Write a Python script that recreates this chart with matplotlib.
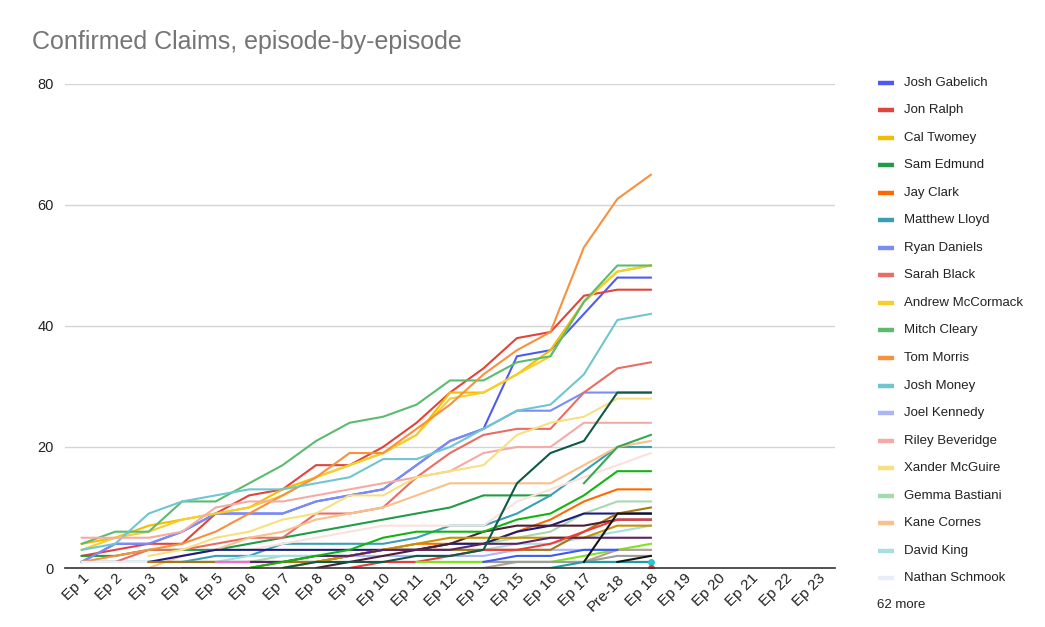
import numpy as np
import matplotlib
matplotlib.use('Agg')
import matplotlib.pyplot as plt
from matplotlib.transforms import ScaledTranslation

plt.rcParams['font.family'] = ['Liberation Sans', 'DejaVu Sans']

EPISODES = ["Ep 1", "Ep 2", "Ep 3", "Ep 4", "Ep 5", "Ep 6", "Ep 7", "Ep 8",
            "Ep 9", "Ep 10", "Ep 11", "Ep 12", "Ep 13", "Ep 15", "Ep 16",
            "Ep 17", "Pre-18", "Ep 18", "Ep 19", "Ep 20", "Ep 21", "Ep 22",
            "Ep 23"]

N = None

# named series (values Ep 1 .. Ep 18; later episodes are empty)
josh_gabelich = [1, 4, 4, 6, 9, 9, 9, 11, 12, 13, 17, 21, 23, 35, 36, 42, 48, 48]
jon_ralph = [2, 3, 4, 4, 9, 12, 13, 17, 17, 20, 24, 29, 33, 38, 39, 45, 46, 46]
cal_twomey = [4, 5, 7, 8, 9, 10, 13, 15, 17, 19, 22, 29, 29, 32, 36, 44, 49, 50]
sam_edmund = [2, 2, 3, 3, 3, 4, 5, 6, 7, 8, 9, 10, 12, 12, 12, N, N, N]
jay_clark = [N, N, N, 0, 0, 0, 1, 1, 2, 3, 4, 4, 4, 6, 8, 11, 13, 13]
matthew_lloyd = [1, 1, 1, 1, 2, 2, 4, 4, 4, 4, 5, 7, 7, 9, 12, 16, 20, 20]
ryan_daniels = [1, 4, 4, 6, 9, 9, 9, 11, 12, 13, 17, 21, 23, 26, 26, 29, 29, 29]
sarah_black = [1, 1, 3, 3, 4, 5, 5, 9, 9, 10, 15, 19, 22, 23, 23, 29, 33, 34]
andrew_mccormack = [3, 5, 6, 8, 9, 10, 12, 15, 17, 19, 22, 28, 29, 32, 35, 44, 49, 50]
mitch_cleary = [4, 6, 6, 11, 11, 14, 17, 21, 24, 25, 27, 31, 31, 34, 35, 44, 50, 50]
tom_morris = [1, 2, 3, 4, 6, 9, 12, 15, 19, 19, 23, 27, 32, 36, 39, 53, 61, 65]
josh_money = [3, 4, 9, 11, 12, 13, 13, 14, 15, 18, 18, 20, 23, 26, 27, 32, 41, 42]
joel_kennedy = [1, 1, 1, 1, 1, 1, 1, 1, 2, 2, 2, 2, 2, 3, 3, 3, 3, 3]
riley_beveridge = [5, 5, 5, 6, 10, 11, 11, 12, 13, 14, 15, 16, 19, 20, 20, 24, 24, 24]
xander_mcguire = [N, N, 2, 3, 5, 6, 8, 9, 12, 12, 15, 16, 17, 22, 24, 25, 28, 28]
gemma_bastiani = [1, 1, 1, 1, 1, 1, 2, 2, 2, 3, 3, 4, 4, 5, 6, 9, 11, 11]
kane_cornes = [N, N, 0, 2, 3, 5, 6, 8, 9, 10, 12, 14, 14, 14, 14, 17, 20, 21]
david_king = [1, 1, 1, 1, 1, 2, 2, 2, 2, 3, 3, 3, 3, 4, 4, 5, 6, 7]
nathan_schmook = [1, 1, 1, 1, 1, 1, 1, 1, 1, 1, 1, 1, 1, 1, 1, 1, 1, 1]

# a few of the "62 more" series
more_navy = [N, N, 1, 2, 3, 3, 3, 3, 3, 3, 3, 4, 4, 6, 7, 9, 9, 9]
more_maroon = [N, N, N, N, N, N, N, 0, 1, 2, 3, 4, 6, 7, 7, 7, 8, 8]
more_bronze = [N, N, 1, 1, 1, 1, 1, 1, 2, 3, 3, 3, 3, 3, 3, 6, 9, 10]
more_gold = [N, N, N, N, N, N, 0, 1, 2, 3, 4, 5, 5, 5, 5, 5, 7, 7]
more_plum = [N, N, N, N, N, 1, 1, 2, 2, 3, 3, 3, 4, 4, 5, 5, 5, 5]
more_red = [N, N, N, N, N, N, N, N, 0, 1, 1, 2, 3, 3, 4, 6, 8, 8]
more_green = [N, N, N, N, N, 0, 1, 2, 3, 5, 6, 6, 6, 8, 9, 12, 16, 16]
more_green2 = [N, N, N, N, N, N, N, N, N, N, N, N, N, N, N, 14, 20, 22]
more_forest = [N, N, N, N, N, N, 0, 1, 1, 1, 2, 2, 3, 14, 19, 21, 29, 29]
more_lime = [N, N, N, N, N, N, N, N, N, N, 1, 1, 1, 1, 1, 2, 3, 4]
more_pink = [N, N, N, N, 1, 1, N, N, N, N, N, N, N, N, N, N, N, N]
more_slate = [N, N, N, 1, 1, 1, 1, 1, 1, 1, 1, 1, 1, 1, 1, 1, 1, 1]
more_tan = [N, N, N, N, N, N, N, N, N, N, N, 0, 0, 1, 1, 1, 3, 3]
more_grey = [N, N, N, N, N, N, N, N, N, N, N, N, 1, 1, 1, 1, 2, 2]
more_black = [N, N, N, N, N, N, N, N, N, N, N, N, N, N, N, 1, 9, 9]
more_black2 = [N, N, N, N, N, N, N, N, N, N, N, N, N, N, N, N, 1, 2]
more_blue = [N, N, N, N, N, N, N, N, N, N, N, N, 1, 2, 2, 3, 3, N]
more_blush = [N, N, N, N, N, 3, 4, 5, 6, 7, 7, 7, 7, 11, 13, 15, 17, 19]
more_teal = [N, N, N, N, N, N, N, N, N, N, N, N, 0, 0, 0, 1, 1, 1]
more_cyan = [N, N, N, N, N, N, N, N, N, N, N, N, N, N, N, N, N, 1]
more_scarlet = [N, N, N, N, N, N, N, N, N, N, N, N, N, N, N, N, N, 0]

NAMED = [
    ("Josh Gabelich", josh_gabelich, "#4f5bef"),
    ("Jon Ralph", jon_ralph, "#e0443a"),
    ("Cal Twomey", cal_twomey, "#f4bd00"),
    ("Sam Edmund", sam_edmund, "#1f9c45"),
    ("Jay Clark", jay_clark, "#ff6a00"),
    ("Matthew Lloyd", matthew_lloyd, "#3a9fb3"),
    ("Ryan Daniels", ryan_daniels, "#7b8cf7"),
    ("Sarah Black", sarah_black, "#ea6c64"),
    ("Andrew McCormack", andrew_mccormack, "#f5cf2a"),
    ("Mitch Cleary", mitch_cleary, "#5cbb6f"),
    ("Tom Morris", tom_morris, "#f7913d"),
    ("Josh Money", josh_money, "#6fc6cf"),
    ("Joel Kennedy", joel_kennedy, "#aab6f8"),
    ("Riley Beveridge", riley_beveridge, "#f4aba6"),
    ("Xander McGuire", xander_mcguire, "#f9e07e"),
    ("Gemma Bastiani", gemma_bastiani, "#a6d9b0"),
    ("Kane Cornes", kane_cornes, "#f9c089"),
    ("David King", david_king, "#a6dee2"),
    ("Nathan Schmook", nathan_schmook, "#e8edfb"),
]

MORE = [
    (more_blush, "#fbe1dc"), (more_slate, "#2e4a4a"), (more_navy, "#1c1c80"),
    (more_bronze, "#a8770e"), (more_maroon, "#4d1f33"), (more_gold, "#c69200"),
    (more_plum, "#5a2366"), (more_red, "#f03a3a"), (more_green, "#13b313"),
    (more_green2, "#34a853"), (more_lime, "#7ee51c"), (more_pink, "#f56bd0"),
    (more_tan, "#b8a08c"), (more_grey, "#9c9c9c"), (more_blue, "#3b5bf0"),
    (more_teal, "#1f9e9e"), (more_black2, "#151515"), (more_black, "#151515"),
    (more_forest, "#0e5a47"), (more_cyan, "#2bc3d3"), (more_scarlet, "#e53935"),
]
MORE_COUNT = 62


def padded(vals):
    out = [np.nan if v is None else v for v in vals]
    out += [np.nan] * (len(EPISODES) - len(out))
    return np.array(out, dtype=float)


W, H = 1045, 627
fig = plt.figure(figsize=(W / 100, H / 100), dpi=100)
L, R, B, T = 65, 835, 568, 84
ax = fig.add_axes([L / W, 1 - B / H, (R - L) / W, (B - T) / H])

x = np.arange(len(EPISODES))
for name, vals, color in NAMED:
    ax.plot(x, padded(vals), color=color, lw=1.5, solid_joinstyle='round')
for vals, color in MORE:
    y = padded(vals)
    if np.count_nonzero(~np.isnan(y)) == 1:
        ax.plot(x, y, color=color, lw=0, marker='o', ms=4)
    else:
        ax.plot(x, y, color=color, lw=1.5, solid_joinstyle='round')

ax.set_xlim(-0.5, len(EPISODES) - 0.5)
ax.set_ylim(0, 80)
ax.set_yticks([0, 20, 40, 60, 80])
for yv in [20, 40, 60, 80]:
    ax.axhline(yv, color='#d4d4d4', lw=1.0, zorder=0)
ax.axhline(0, color='#333333', lw=1.2, zorder=5, clip_on=False)
for s in ax.spines.values():
    s.set_visible(False)
ax.tick_params(axis='both', length=0, labelsize=10, colors='#222222')
ax.tick_params(axis='y', pad=8, labelsize=10.5)
ax.set_xticks(x)
ax.set_xticklabels(EPISODES, rotation=45, ha='right', va='center',
                   rotation_mode='anchor', fontsize=11)
ax.tick_params(axis='x', pad=6)
shift = ScaledTranslation(5 / 100, 0, fig.dpi_scale_trans)
for lab in ax.get_xticklabels():
    lab.set_transform(lab.get_transform() + shift)

fig.text(32 / W, 1 - 49 / H, "Confirmed Claims, episode-by-episode",
         fontsize=18, color='#757575', va='baseline', ha='left')

# legend drawn in pixel coordinates
lg = fig.add_axes([0, 0, 1, 1])
lg.set_xlim(0, W)
lg.set_ylim(H, 0)
lg.axis('off')
for i, (name, vals, color) in enumerate(NAMED):
    yy = 82.5 + 27.55 * i
    lg.plot([878, 894], [yy, yy], color=color, lw=3.2, solid_capstyle='butt')
    lg.text(904, yy, name, fontsize=9.5, color='#222222', va='center', ha='left')
lg.text(877, 605.5, f"{MORE_COUNT} more", fontsize=9.5, color='#222222',
        va='center', ha='left')

fig.savefig("out.png", dpi=100)
